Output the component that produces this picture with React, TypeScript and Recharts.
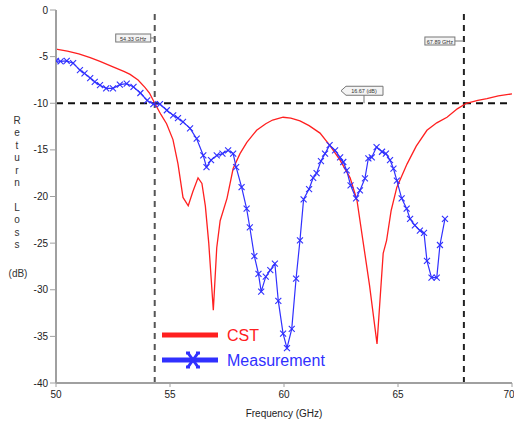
import React from 'react'
import { LineChart, Line, XAxis, YAxis, ReferenceLine, Legend } from 'recharts'

// CST simulation (GHz, dB)
const cstFreq = [50.0, 50.5, 51.0, 51.5, 51.93, 52.5, 53.0, 53.25, 53.6, 53.9, 54.1, 54.33, 54.6, 54.85, 55.13, 55.35, 55.57, 55.8, 56.0, 56.23, 56.4, 56.55, 56.7, 56.9, 57.05, 57.2, 57.5, 57.77, 58.07, 58.37, 58.8, 59.2, 59.5, 59.96, 60.3, 60.7, 61.1, 61.58, 62.0, 62.46, 62.9, 63.2, 63.46, 63.75, 64.08, 64.35, 64.5, 64.7, 64.95, 65.4, 65.8, 66.27, 66.7, 67.15, 67.6, 68.0, 68.5, 68.9, 69.4, 70.0]
const cstLoss = [-4.2, -4.4, -4.7, -5.1, -5.5, -6.1, -6.6, -6.9, -7.5, -8.3, -8.9, -10, -11.2, -12.2, -13.9, -16.5, -20.1, -21, -19.5, -18, -18.6, -21, -25, -32.2, -25.5, -22.6, -20.2, -17, -15.4, -14.2, -12.9, -12.2, -11.8, -11.5, -11.6, -11.9, -12.4, -13.2, -14.5, -16.1, -18, -20.4, -24.7, -29.5, -35.8, -26.1, -24.7, -21.5, -19, -16.5, -14.6, -12.9, -12.1, -11.5, -10.6, -10, -9.7, -9.5, -9.2, -9.0]

// measured (GHz, dB)
const measFreq = [50.0, 50.2, 50.47, 50.75, 51.05, 51.25, 51.5, 51.7, 51.93, 52.2, 52.5, 52.8, 53.1, 53.4, 53.7, 54.0, 54.27, 54.56, 54.86, 55.14, 55.35, 55.57, 55.88, 56.17, 56.46, 56.6, 56.8, 57.05, 57.3, 57.55, 57.77, 57.9, 58.14, 58.36, 58.5, 58.7, 58.88, 59.0, 59.2, 59.4, 59.6, 59.75, 59.96, 60.13, 60.34, 60.53, 60.7, 60.86, 61.1, 61.28, 61.43, 61.62, 61.8, 62.0, 62.24, 62.46, 62.6, 62.75, 62.92, 63.16, 63.33, 63.55, 63.7, 63.85, 64.06, 64.3, 64.47, 64.65, 64.8, 64.95, 65.16, 65.38, 65.53, 65.74, 65.96, 66.14, 66.27, 66.47, 66.7, 66.84, 67.06]
const measLoss = [-5.45, -5.5, -5.45, -5.7, -6.45, -6.8, -7.3, -7.7, -8.06, -8.4, -8.4, -8.0, -7.9, -8.25, -8.9, -9.7, -10.1, -10.1, -10.75, -11.3, -11.6, -12.0, -12.7, -13.8, -15.6, -16.85, -16.1, -15.6, -15.4, -15.05, -15.4, -16.85, -19.0, -21.3, -23.3, -26.4, -28.3, -30.2, -28.6, -27.9, -27.2, -31.2, -34.7, -36.25, -34.2, -28.8, -24.7, -20.3, -19.2, -18.0, -17.5, -16.2, -15.4, -14.5, -15.05, -15.8, -16.3, -17.2, -18.8, -20.2, -19.35, -18.06, -15.9, -15.8, -14.7, -15.2, -15.4, -16.1, -17.0, -18.3, -20.2, -21.3, -22.4, -23.1, -23.65, -23.9, -26.9, -28.7, -28.7, -25.2, -22.4]

const xTicks = [50, 55, 60, 65, 70]
const yTicks = [0, -5, -10, -15, -20, -25, -30, -35, -40]
const markerLow = 54.33
const markerHigh = 67.89
const levelDb = -10

const cstData = cstFreq.map((f, i) => ({ f, v: cstLoss[i] }))
const measData = measFreq.map((f, i) => ({ f, v: measLoss[i] }))

const RED = '#ff2020'
const BLUE = '#3030ff'
const font = '"Liberation Sans", Arial, sans-serif'

const XDot = (props: any) => {
  const { cx, cy, index } = props
  if (cx == null || cy == null) return <g key={index} />
  const s = 3
  return (
    <g key={index} stroke={BLUE} strokeWidth={1.1}>
      <line x1={cx - s} y1={cy - s} x2={cx + s} y2={cy + s} />
      <line x1={cx - s} y1={cy + s} x2={cx + s} y2={cy - s} />
    </g>
  )
}

// little boxed marker tags like the analyser shows
const freqTag = (text: string, dx: number, w: number, dy: number) => (p: any) => {
  const { x, y } = p.viewBox
  return (
    <g>
      <rect x={x + dx} y={y + dy} width={w} height={8} fill="#f4f4f4" stroke="#777" strokeWidth={1} />
      <line x1={x + dx + w} y1={y + dy + 4} x2={x} y2={y + dy + 4} stroke="#777" />
      <text x={x + dx + w / 2} y={y + dy + 6.5} fontSize={5.5} textAnchor="middle" fill="#333" fontFamily={font}>{text}</text>
    </g>
  )
}

const levelTag = (p: any) => {
  const { x, y } = p.viewBox
  const bx = x + 290
  const by = y - 17
  return (
    <g>
      <path d={`M${bx} ${by} L${bx + 37} ${by} L${bx + 37} ${by + 9} L${bx} ${by + 9} L${bx - 5} ${by + 4.5} Z`} fill="#f4f4f4" stroke="#777" />
      <line x1={bx + 18} y1={by + 9} x2={bx + 18} y2={y} stroke="#777" />
      <text x={bx + 18} y={by + 7} fontSize={5.5} textAnchor="middle" fill="#333" fontFamily={font}>16.67 (dB)</text>
    </g>
  )
}

const yLabel = () => {
  const letters = ['R', 'e', 't', 'u', 'r', 'n', '', 'L', 'o', 's', 's']
  return (
    <g fontFamily={font} fontSize={10} fill="#333">
      {letters.map((c, i) => (
        <text key={i} x={17} y={124 + i * 12.4} textAnchor="middle">{c}</text>
      ))}
      <text x={18} y={277} textAnchor="middle">(dB)</text>
    </g>
  )
}

const legendContent = () => (
  <svg width={200} height={60}>
    <line x1={2} y1={15} x2={58} y2={15} stroke={RED} strokeWidth={5} />
    <text x={67} y={21} fontSize={16} fill={RED} fontFamily={font}>CST</text>
    <line x1={2} y1={40} x2={58} y2={40} stroke={BLUE} strokeWidth={5} />
    <g stroke={BLUE} strokeWidth={3}>
      <line x1={28} y1={33} x2={38} y2={47} />
      <line x1={28} y1={47} x2={38} y2={33} />
      <line x1={26} y1={33} x2={30} y2={33} />
      <line x1={36} y1={33} x2={40} y2={33} />
      <line x1={26} y1={47} x2={30} y2={47} />
      <line x1={36} y1={47} x2={40} y2={47} />
    </g>
    <text x={67} y={46} fontSize={16} fill={BLUE} fontFamily={font}>Measurement</text>
  </svg>
)

const tick = { fill: '#222', fontSize: 10, fontFamily: font }
const frame = { stroke: '#a0a0a0', strokeWidth: 2 }

export default function App() {
  return (
    <div style={{ position: 'absolute', left: 0, top: 0, width: 514, height: 425, background: '#fff' }}>
      <LineChart width={514} height={425} margin={{ top: 10, right: 2, left: 0, bottom: 0 }}>
        <XAxis
          type="number"
          dataKey="f"
          domain={[50, 70]}
          ticks={xTicks}
          tick={tick}
          tickSize={4}
          tickMargin={4}
          axisLine={frame}
          tickLine={{ stroke: '#a0a0a0' }}
          height={42}
          allowDataOverflow
          label={{ value: 'Frequency (GHz)', position: 'insideBottom', offset: 8, fontSize: 10, fill: '#222', fontFamily: font }}
        />
        <XAxis xAxisId="top" orientation="top" type="number" domain={[50, 70]} height={0} tick={false} tickLine={false} axisLine={frame} />
        <YAxis
          type="number"
          domain={[-40, 0]}
          ticks={yTicks}
          tick={tick}
          tickSize={6}
          tickMargin={2}
          axisLine={frame}
          tickLine={{ stroke: '#a0a0a0' }}
          width={56}
          allowDataOverflow
          label={{ content: yLabel }}
        />
        <YAxis yAxisId="right" orientation="right" type="number" domain={[-40, 0]} width={0} tick={false} tickLine={false} axisLine={frame} />
        <ReferenceLine x={markerLow} stroke="#555" strokeWidth={2} strokeDasharray="6 5" label={{ content: freqTag('54.33 GHz', -39, 35, 24) }} />
        <ReferenceLine x={markerHigh} stroke="#222" strokeWidth={2} strokeDasharray="6 5" label={{ content: freqTag('67.89 GHz', -39, 30, 27) }} />
        <ReferenceLine y={levelDb} stroke="#111" strokeWidth={2} strokeDasharray="7 5" label={{ content: levelTag }} />
        <Line data={cstData} dataKey="v" type="linear" stroke={RED} strokeWidth={1.3} dot={false} isAnimationActive={false} name="CST" />
        <Line data={measData} dataKey="v" type="linear" stroke={BLUE} strokeWidth={1.2} dot={XDot} isAnimationActive={false} name="Measurement" />
        <Legend verticalAlign="middle" layout="horizontal" align="center" content={legendContent} wrapperStyle={{ left: 160, top: 320, width: 200, height: 60 }} />
      </LineChart>
    </div>
  )
}
